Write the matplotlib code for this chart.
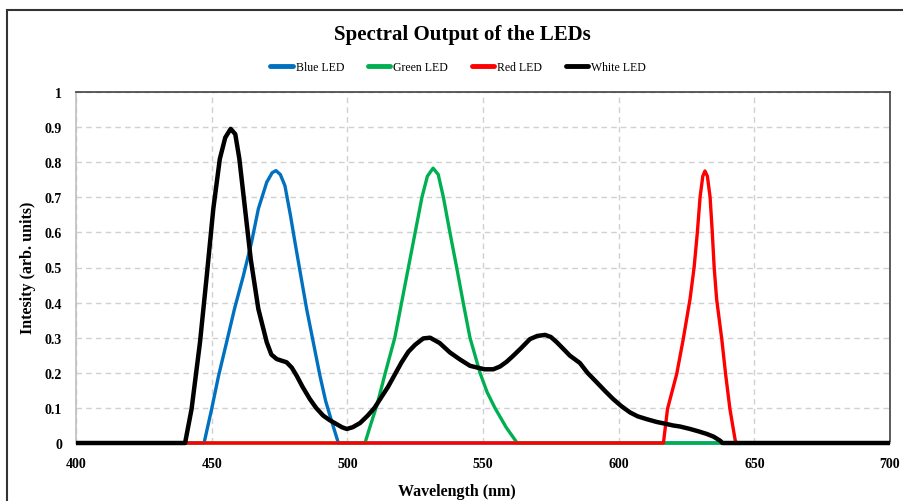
import numpy as np
import matplotlib.pyplot as plt
from matplotlib.patches import Rectangle

plt.rcParams['font.family'] = ['Liberation Serif', 'DejaVu Serif']

# wavelengths (nm) and intensities
blue_x = [400, 447.2, 450, 452.5, 455.5, 458.5, 461.7, 464.7, 467.2, 470.3, 472.3, 473.7,
          475.3, 477, 479, 480.7, 483, 485, 487.5, 489.9, 492, 493.6, 495.3, 496.7, 700]
blue_y = [0, 0, 0.097, 0.19, 0.287, 0.385, 0.477, 0.572, 0.667, 0.743, 0.77, 0.776,
          0.765, 0.733, 0.65, 0.572, 0.47, 0.382, 0.285, 0.192, 0.12, 0.078, 0.035, 0, 0]

green_x = [400, 506.5, 508.5, 511, 514, 517.5, 520, 522.5, 525, 527.5, 529.5, 531.6,
           533.5, 535.4, 537.8, 540.3, 542.7, 545.2, 548.9, 551.5, 554.4, 558.5, 562.6, 700]
green_y = [0, 0, 0.05, 0.11, 0.2, 0.3, 0.4, 0.5, 0.6, 0.7, 0.76, 0.783,
           0.765, 0.7, 0.6, 0.5, 0.4, 0.3, 0.2, 0.145, 0.1, 0.045, 0, 0]

red_x = [400, 616.5, 618, 619.8, 621.4, 623.8, 626.3, 627.8, 629, 630, 631, 631.8,
         632.7, 633.7, 634.5, 635.2, 636.1, 638, 639.4, 641, 642.9, 643.3, 700]
red_y = [0, 0, 0.097, 0.15, 0.197, 0.296, 0.41, 0.5, 0.6, 0.7, 0.76, 0.775,
         0.76, 0.7, 0.6, 0.5, 0.41, 0.296, 0.197, 0.097, 0.01, 0, 0]

white_x = [400, 440.2, 442.6, 445.7, 448.2, 450.6, 453, 455, 457, 458.7, 460.2, 462.3,
           464.4, 467.2, 470.3, 472, 474, 477.6, 479.5, 481.3, 483.5, 486.2, 488.5, 491.1,
           493.5, 496, 498, 499.8, 502, 504.7, 507.5, 510, 512.5, 515, 517.5, 520, 522.5,
           525, 528, 530.5, 534, 537.8, 541.5, 545.2, 548.9, 550.7, 553.8, 556.3, 558.8,
           561.2, 564, 567.3, 570, 572.9, 575, 577.2, 580, 582, 585.7, 588.5, 591.9, 595,
           598, 601, 604.2, 607, 610.3, 614, 617.7, 620, 622.6, 626.3, 629.5, 632.4,
           635, 637.3, 638.3, 700]
white_y = [0, 0, 0.097, 0.287, 0.477, 0.667, 0.809, 0.87, 0.895, 0.88, 0.81, 0.667,
           0.524, 0.382, 0.287, 0.252, 0.239, 0.23, 0.215, 0.192, 0.16, 0.125, 0.1, 0.078,
           0.065, 0.054, 0.045, 0.04, 0.045, 0.057, 0.078, 0.1, 0.13, 0.16, 0.195, 0.23, 0.26,
           0.28, 0.298, 0.3, 0.285, 0.258, 0.238, 0.22, 0.213, 0.21, 0.21, 0.218, 0.232,
           0.249, 0.27, 0.296, 0.305, 0.308, 0.302, 0.287, 0.265, 0.249, 0.228, 0.2, 0.173, 0.148,
           0.125, 0.105, 0.087, 0.076, 0.068, 0.06, 0.054, 0.05, 0.047, 0.04, 0.033, 0.026,
           0.018, 0.007, 0, 0]

fig = plt.figure(figsize=(9.04, 5.02), dpi=100)
ax = fig.add_axes([76/904, 1-444/502, 814/904, 351/502])

style = dict(clip_on=False, solid_joinstyle='round', solid_capstyle='butt', zorder=3)
ax.plot(blue_x, blue_y, color='#0070c0', lw=2.4, label='Blue LED', **style)
ax.plot(green_x, green_y, color='#00b050', lw=2.4, label='Green LED', **style)
ax.plot(red_x, red_y, color='#ff0000', lw=2.4, label='Red LED', **style)
ax.plot(white_x, white_y, color='black', lw=3.2, label='White LED', **style)

ax.set_xlim(400, 700)
ax.set_ylim(0, 1)
ax.set_xticks(np.arange(400, 701, 50))
ax.set_yticks(np.arange(0, 1.01, 0.1))
ax.set_yticklabels(['0', '0.1', '0.2', '0.3', '0.4', '0.5', '0.6', '0.7', '0.8', '0.9', '1'])
ax.tick_params(length=0, labelsize=10)
ax.tick_params(axis='x', pad=10)
ax.tick_params(axis='y', pad=10)
for lab in ax.get_xticklabels() + ax.get_yticklabels():
    lab.set_fontweight('bold')

ax.grid(True, color='#d0d0d0', ls=(0, (4, 3)), lw=1)
ax.set_axisbelow(True)
ax.spines['left'].set_color('#bfbfbf')
ax.spines['bottom'].set_color('#bfbfbf')
ax.spines['top'].set_color('#404040')
ax.spines['right'].set_color('#404040')
for s in ax.spines.values():
    s.set_linewidth(1.2)

fig.text(462/904, 1-35/502, 'Spectral Output of the LEDs', ha='center', va='center',
         fontsize=15, fontweight='bold')
fig.text(457/904, 1-492/502, 'Wavelength (nm)', ha='center', va='center',
         fontsize=11.5, fontweight='bold')
fig.text(28/904, 1-268/502, 'Intesity (arb. units)', ha='center', va='center',
         rotation=90, fontsize=11.5, fontweight='bold')

leg = fig.legend(loc='center', bbox_to_anchor=(458/904, 1-68/502), ncol=4, frameon=False,
                 fontsize=8.5, handlelength=1.9, handletextpad=0.25, columnspacing=2.0)
for ln in leg.get_lines():
    ln.set_linewidth(3.5)
    ln.set_solid_capstyle('round')

# outer frame round the chart
fig.patches.append(Rectangle((7/904, -0.1), 1.0, 1.1 - 11/502, transform=fig.transFigure,
                             fill=False, ec='#333333', lw=1.5))

fig.savefig('out.png', dpi=100)
